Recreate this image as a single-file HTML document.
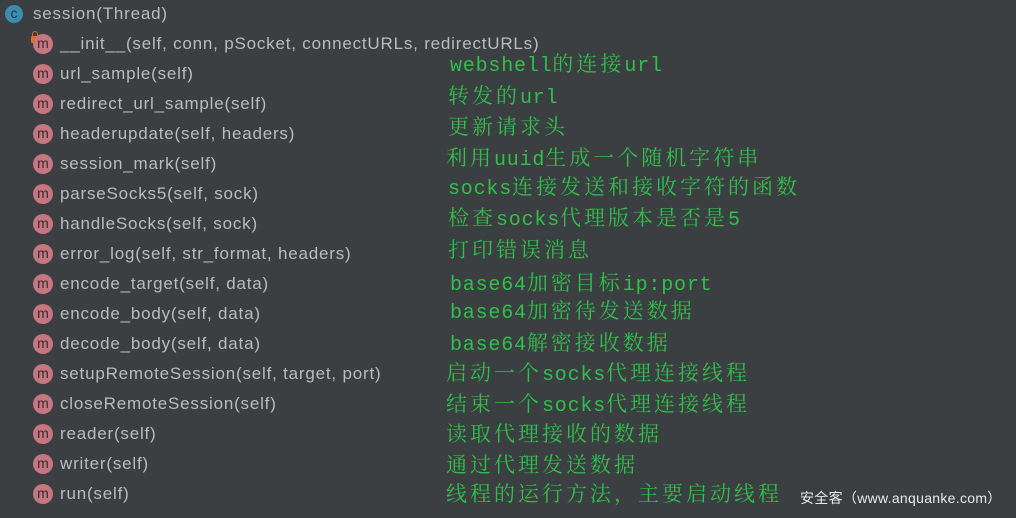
<!DOCTYPE html>
<html><head><meta charset="utf-8"><style>
body{margin:0;width:1016px;height:518px;background:#3c3f41;overflow:hidden;position:relative;font-family:"Liberation Sans","Noto Sans CJK SC",sans-serif}
.t{position:absolute;color:#bbbbbb;font-size:17px;line-height:20px;white-space:nowrap;letter-spacing:0.8px}
.i{position:absolute;width:20px;height:20px;border-radius:50%;background:#c47681;color:#3a2a2c;font-size:14px;line-height:19px;text-align:center;letter-spacing:0}
.g{position:absolute;color:#2fbf4b;font-size:20px;line-height:22px;white-space:nowrap;font-family:"Liberation Mono","Noto Serif CJK SC",monospace;letter-spacing:0.8px}
.g span{font-size:21px;letter-spacing:3px}
</style></head><body>
<div class="i" style="left:5px;top:5px;width:18px;height:18px;background:#3b8db0;color:#1e3440;line-height:17px">c</div>
<div class="t" style="left:33px;top:4px">session(Thread)</div>
<div style="position:absolute;left:31px;top:36px;width:8px;height:7px;background:#e86a1a;border-radius:1px"></div>
<div style="position:absolute;left:32px;top:31px;width:4px;height:5px;border:1px solid #e86a1a;border-bottom:none;border-radius:3px 3px 0 0"></div>
<div id="rows"></div>
<div class="t" style="left:800px;top:488px;color:#e8e8e8;font-size:14px;letter-spacing:0.3px">安全客（www.anquanke.com）</div>
<script>
var m=["__init__(self, conn, pSocket, connectURLs, redirectURLs)","url_sample(self)","redirect_url_sample(self)","headerupdate(self, headers)","session_mark(self)","parseSocks5(self, sock)","handleSocks(self, sock)","error_log(self, str_format, headers)","encode_target(self, data)","encode_body(self, data)","decode_body(self, data)","setupRemoteSession(self, target, port)","closeRemoteSession(self)","reader(self)","writer(self)","run(self)"];
var h="";m.forEach(function(s,k){var y=44+30*k;h+='<div class="i" style="left:33px;top:'+(y-10)+'px">m</div><div class="t" style="left:60px;top:'+(y-10)+'px">'+s+'</div>';});
var g=[["webshell的连接url",66,450],["转发的url",98,448],["更新请求头",129,448],["利用uuid生成一个随机字符串",160,446],["socks连接发送和接收字符的函数",189,448],["检查socks代理版本是否是5",220,448],["打印错误消息",252,448],["base64加密目标ip:port",285,450],["base64加密待发送数据",313,450],["base64解密接收数据",345,450],["启动一个socks代理连接线程",375,446],["结束一个socks代理连接线程",406,446],["读取代理接收的数据",436,446],["通过代理发送数据",467,446],["线程的运行方法，主要启动线程",496,446]];
g.forEach(function(a){var s=a[0].replace(/([^\x00-\x7f]+)/g,'<span>$1</span>');h+='<div class="g" style="left:'+a[2]+'px;top:'+(a[1]-10)+'px">'+s+'</div>';});
document.getElementById("rows").innerHTML=h;
</script>
</body></html>
